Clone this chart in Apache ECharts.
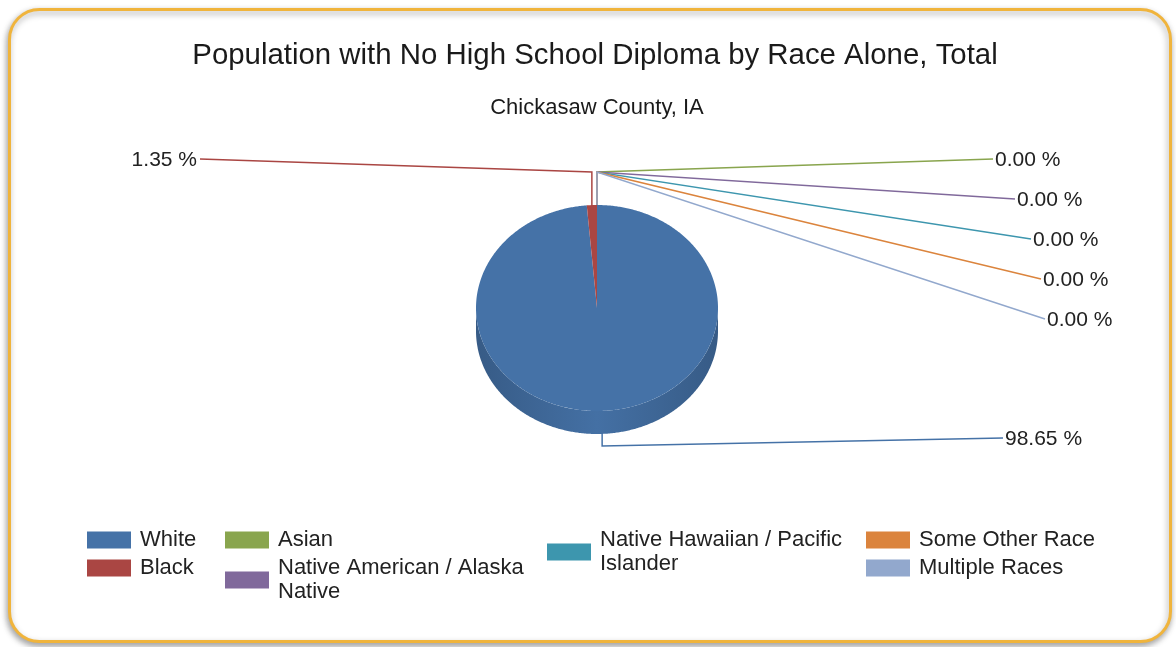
<!DOCTYPE html>
<html>
<head>
<meta charset="utf-8">
<script src="https://cdn.jsdelivr.net/npm/echarts@6/dist/echarts.min.js"></script>
<style>
html,body{margin:0;padding:0;background:#fff;}
#chart{width:1176px;height:647px;}
</style>
</head>
<body>
<div id="chart"></div>
<script>
// ---- data ----
const titleText = 'Population with No High School Diploma by Race Alone, Total';
const subtitleText = 'Chickasaw County, IA';
const categories = ['White', 'Black', 'Asian', 'Native American / Alaska Native',
  'Native Hawaiian / Pacific Islander', 'Some Other Race', 'Multiple Races'];
const shares = [98.65, 1.35, 0, 0, 0, 0, 0];
const colors = ['#4572a7', '#aa4643', '#89a54e', '#80699b', '#3d96ae', '#db843d', '#92a8cd'];

// ---- layout ----
const FONT = '"Liberation Sans", Arial, sans-serif';
const CX = 597, CY = 308, RX = 121, RY = 103, DEPTH = 23;
// label placement (text anchor, align)
const labelLayout = [
  { x: 1005, y: 439, align: 'left' },
  { x: 197, y: 160, align: 'right' },
  { x: 995, y: 160, align: 'left' },
  { x: 1017, y: 200, align: 'left' },
  { x: 1033, y: 240, align: 'left' },
  { x: 1043, y: 280, align: 'left' },
  { x: 1047, y: 320, align: 'left' }
];

const total = shares.reduce((a, b) => a + b, 0);
const starts = [];
let acc = 0;
shares.forEach(v => { starts.push(acc / total); acc += v; });

function pt(theta, dy) {
  return [CX + RX * Math.sin(theta), CY - RY * Math.cos(theta) + (dy || 0)];
}
function shade(hex, f) {
  const n = parseInt(hex.slice(1), 16);
  const r = Math.round(((n >> 16) & 255) * f), g = Math.round(((n >> 8) & 255) * f), b = Math.round((n & 255) * f);
  return 'rgb(' + r + ',' + g + ',' + b + ')';
}

function makeRender(i) {
  return function (params, api) {
    const f0 = api.value(0), f1 = api.value(1), share = api.value(2);
    const a0 = f0 * 2 * Math.PI, a1 = f1 * 2 * Math.PI;
    const color = colors[i];
    const children = [];
    // side wall (front half only)
    const s0 = Math.max(a0, Math.PI / 2), s1 = Math.min(a1, 3 * Math.PI / 2);
    if (s1 > s0) {
      const topArc = [], botArc = [];
      const n = Math.max(2, Math.ceil((s1 - s0) / 0.01));
      for (let k = 0; k <= n; k++) {
        const t = s0 + (s1 - s0) * k / n;
        topArc.push(pt(t, 0));
        botArc.push(pt(t, DEPTH));
      }
      children.push({
        type: 'polygon',
        shape: { points: topArc.concat(botArc.reverse()) },
        style: {
          fill: {
            type: 'linear', x: CX - RX, y: 0, x2: CX + RX, y2: 0, global: true,
            colorStops: [
              { offset: 0, color: shade(color, 0.80) },
              { offset: 0.5, color: shade(color, 0.98) },
              { offset: 1, color: shade(color, 0.80) }
            ]
          }
        }
      });
    }
    // top face
    if (a1 > a0) {
      const pts = [[CX, CY]];
      const n = Math.max(2, Math.ceil((a1 - a0) / 0.01));
      for (let k = 0; k <= n; k++) pts.push(pt(a0 + (a1 - a0) * k / n, 0));
      children.push({ type: 'polygon', shape: { points: pts }, style: { fill: color } });
    }
    // leader line
    const mid = (a0 + a1) / 2;
    const front = Math.cos(mid) < 0;
    const anchor = pt(mid, front ? DEPTH : 0);
    const elbow = front ? [anchor[0], anchor[1] + 12] : [anchor[0], 172];
    const L = labelLayout[i];
    const end = [L.align === 'left' ? L.x - 2 : L.x + 3, L.y - 1];
    children.push({
      type: 'polyline',
      shape: { points: [anchor, elbow, end] },
      style: { stroke: color, lineWidth: 1.5, fill: null }
    });
    children.push({
      type: 'text',
      style: {
        text: (share / total * 100).toFixed(2) + ' %',
        x: L.x, y: L.y, align: L.align, verticalAlign: 'middle',
        font: '21px ' + FONT, fill: '#222'
      }
    });
    return { type: 'group', children: children };
  };
}

const series = categories.map((name, i) => ({
  type: 'custom',
  name: name,
  coordinateSystem: 'none',
  itemStyle: { color: colors[i] },
  data: [[starts[i], starts[i] + shares[i] / total, shares[i]]],
  renderItem: makeRender(i),
  animation: false,
  silent: true
}));

const legendBase = {
  orient: 'vertical', icon: 'rect', itemWidth: 44, itemHeight: 17, itemGap: 4, padding: 0,
  selectedMode: false,
  textStyle: { fontFamily: FONT, fontSize: 22, lineHeight: 24, color: '#222', width: 255, overflow: 'break', padding: [0, 0, 0, 4] }
};
const legendCols = [
  { data: categories.slice(0, 2), left: 87, top: 528 },
  { data: categories.slice(2, 4), left: 225, top: 528 },
  { data: categories.slice(4, 5), left: 547, top: 528 },
  { data: categories.slice(5, 7), left: 866, top: 528 }
];

const chart = echarts.init(document.getElementById('chart'), null, { renderer: 'canvas' });
chart.setOption({
  backgroundColor: '#fff',
  animation: false,
  title: [
    { text: titleText, left: 595, top: 39, textAlign: 'center', padding: 0,
      textStyle: { fontFamily: FONT, fontSize: 29.4, fontWeight: 'normal', color: '#1a1a1a', lineHeight: 34 } },
    { text: subtitleText, left: 597, top: 95, textAlign: 'center', padding: 0,
      textStyle: { fontFamily: FONT, fontSize: 22, fontWeight: 'normal', color: '#1a1a1a', lineHeight: 26 } }
  ],
  graphic: [{
    type: 'rect', z: -10, silent: true,
    shape: { x: 9.5, y: 9.5, width: 1161, height: 632, r: 30 },
    style: { fill: '#fff', stroke: '#f0b43c', lineWidth: 3, shadowBlur: 6, shadowColor: 'rgba(0,0,0,0.35)', shadowOffsetX: -1, shadowOffsetY: 3 }
  }],
  legend: legendCols.map(c => Object.assign({}, legendBase, c)),
  series: series
});
</script>
</body>
</html>
